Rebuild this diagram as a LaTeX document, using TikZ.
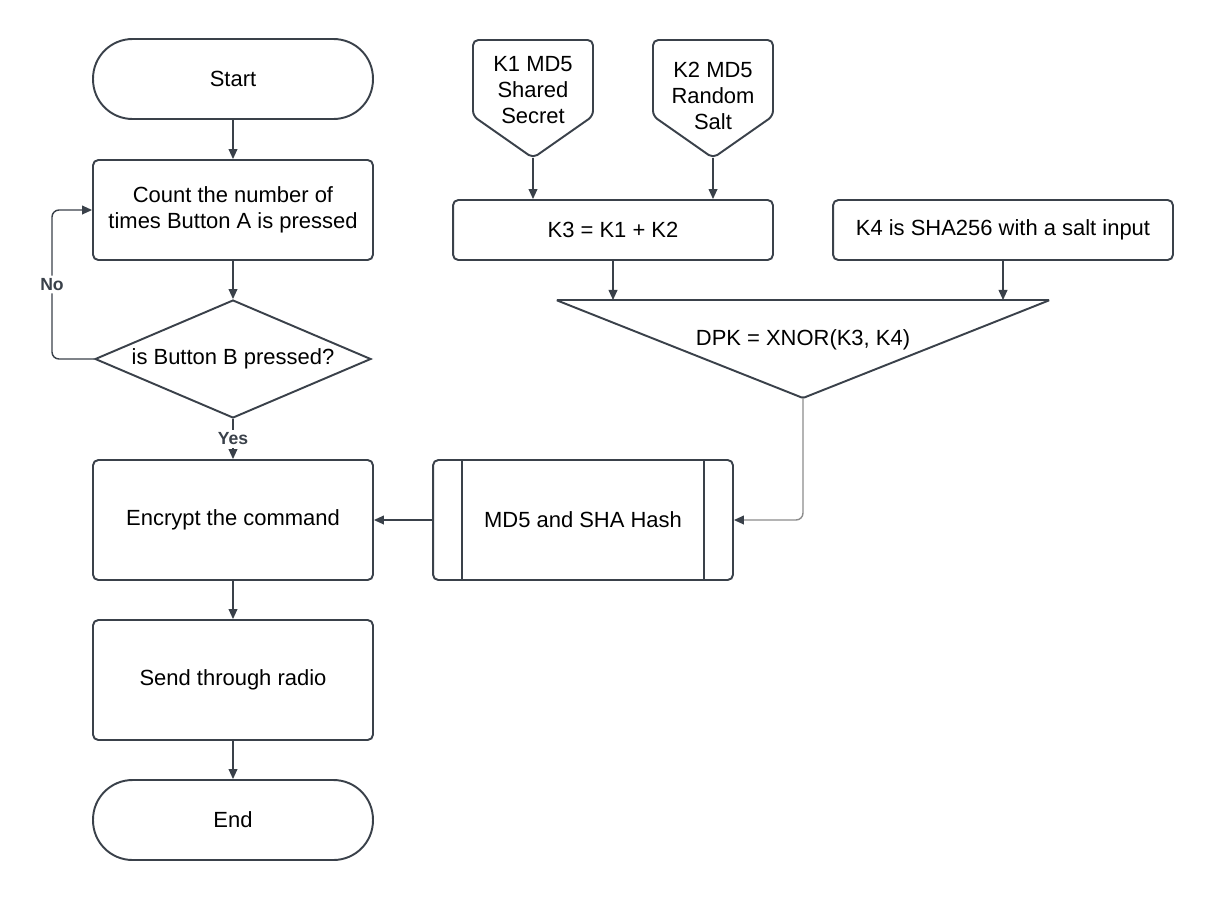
\documentclass[tikz,border=0pt]{standalone}
\usepackage{fontspec}
\setmainfont{Liberation Sans}
\usetikzlibrary{shapes.geometric,arrows.meta,calc}
\definecolor{linegray}{HTML}{3A414A}
\definecolor{softgray}{HTML}{8C8C8C}

\begin{document}
\begin{tikzpicture}
[x=0.02cm,y=-0.02cm,>={Triangle[length=5.7pt,width=5pt]},
font=\fontsize{12.5}{14.8}\selectfont,
proc/.style = {draw=linegray, line width=1.1pt, rounded corners=3pt, align=center, minimum width=5.6cm},
term/.style = {draw=linegray, line width=1.1pt, rounded corners=0.79cm, minimum width=5.6cm, minimum height=1.6cm},
decide/.style = {draw=linegray, line width=1.1pt, diamond, aspect=2.34, inner sep=0pt, minimum width=5.52cm, minimum height=2.36cm},
outline/.style = {draw=linegray, line width=1.1pt, rounded corners=3pt},
lbl/.style = {fill=white, text=linegray, font=\fontsize{10}{12}\selectfont\bfseries, inner sep=1.5pt},
conn/.style = {draw=linegray, line width=0.8pt, ->},]
\useasboundingbox (0,0) rectangle (1213,900);
% left column
\node (start) at (233,79)[term] {Start};
\node (cnt) at (233,210)[proc,minimum height=2cm] {Count the number of\\times Button A is pressed};
\node (dec) at (233,359)[decide] {is Button B pressed?};
\node (enc) at (233,520)[proc,minimum height=2.4cm] {Encrypt the command};
\node (snd) at (233,680)[proc,minimum height=2.4cm] {Send through radio};
\node (fin) at (233,820)[term] {End};
\coordinate (noturn) at (52,359);
% key inputs
\node (k1) at (533,90)[align=center] {K1 MD5\\Shared\\Secret};
\coordinate (k1tip) at (533,158);
\draw[outline] (473,40) -- (593,40) -- (593,116) -- (k1tip) -- (473,116) -- cycle;
\node (k2) at (713,96)[align=center] {K2 MD5\\Random\\Salt};
\coordinate (k2tip) at (713,158);
\draw[outline] (653,40) -- (773,40) -- (773,116) -- (k2tip) -- (653,116) -- cycle;
\node (k3) at (613,230)[proc,minimum width=6.4cm,minimum height=1.2cm] {K3 = K1 + K2};
\node (k4) at (1003,230)[proc,minimum width=6.8cm,minimum height=1.2cm] {K4 is SHA256 with a salt input};
% merge
\coordinate (trinw) at (556,300);
\coordinate (trine) at (1050,300);
\coordinate (tritip) at (803,398);
\draw[outline,rounded corners=1pt] (trinw) -- (trine) -- (tritip) -- cycle;
\node (dpk) at (803,340) {DPK = XNOR(K3, K4)};
\node (md) at (583,520)[proc,minimum width=6cm,minimum height=2.4cm] {MD5 and SHA Hash};
\draw[linegray,line width=1.1pt] ([xshift=0.6cm]md.north west) -- ([xshift=0.6cm]md.south west);
\draw[linegray,line width=1.1pt] ([xshift=-0.6cm]md.north east) -- ([xshift=-0.6cm]md.south east);
% connectors
\draw[conn] (start) -- (cnt);
\draw[conn] (cnt) -- (dec);
\draw[conn] (dec) -- node[lbl] {Yes} (enc);
\draw[conn,rounded corners=4pt] (dec.west) -- (noturn) |- node[pos=0.25,lbl] {No} (cnt.west);
\draw[conn] (enc) -- (snd);
\draw[conn] (snd) -- (fin);
\draw[conn] (k1tip) -- (k1tip |- k3.north);
\draw[conn] (k2tip) -- (k2tip |- k3.north);
\draw[conn] (k3) -- (k3 |- trinw);
\draw[conn] (k4) -- (k4 |- trinw);
\draw[conn,draw=softgray,rounded corners=4pt,-{Triangle[length=5.7pt,width=5pt,color=linegray]}] (tritip) |- (md.east);
\draw[conn] (md) -- (enc);
\end{tikzpicture}
\end{document}
